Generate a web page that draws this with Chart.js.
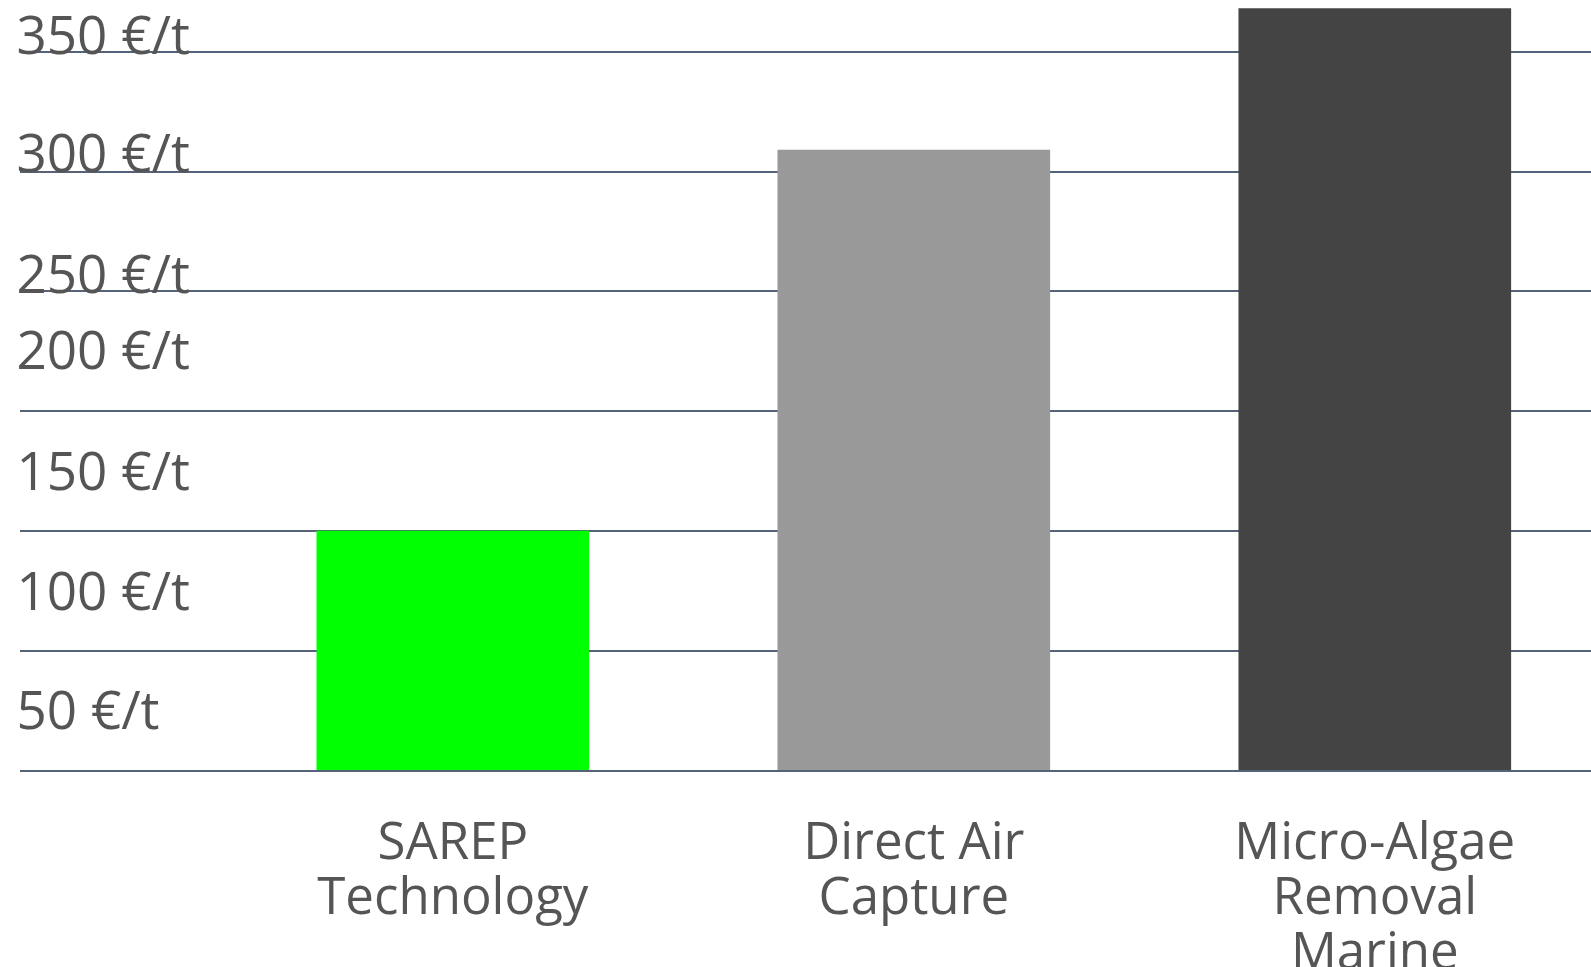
<!DOCTYPE html>
<html lang="en">
<head>
<meta charset="utf-8">
<title>Cost per tonne of CO2 removal</title>
<script src="https://cdn.jsdelivr.net/npm/chart.js@4/dist/chart.umd.min.js"></script>
<style>
    html, body { margin: 0; padding: 0; background: #fff; overflow: hidden; }
    #wrap { width: 1591px; height: 967px; position: relative; }
</style>
</head>
<body>
<div id="wrap"><canvas id="costChart"></canvas></div>
<script>
// Categories, one line per entry as they wrap under the bars
const categories = [
    ['SAREP', 'Technology'],
    ['Direct Air', 'Capture'],
    ['Micro-Algae', 'Removal', 'Marine']
];

// Bar heights, in grid units (gridlines every 50)
const costValues = [100, 259, 318];
const barColors = ['#00ff00', '#999999', '#444444'];

// Tick labels as printed on the left, and the value each one sits at
const tickLabels = ['50 €/t', '100 €/t', '150 €/t', '200 €/t', '250 €/t', '300 €/t', '350 €/t'];
const tickLabelValues = [23.5, 73.5, 123.5, 174, 205.5, 256, 305.5];

const TEXT_COLOR = '#555555';
const FONT = "'Open Sans', sans-serif";
const Y_MAX = 321.6;

/**
 * Builds the bar chart.
 */
function init() {
    const ctx = document.getElementById('costChart');

    new Chart(ctx, {
        type: 'bar',
        data: {
            datasets: [{
                data: costValues.map((v, i) => ({ x: i, y: v })),
                backgroundColor: barColors,
                borderWidth: 0,
                barThickness: 272
            }]
        },
        options: {
            responsive: true,
            maintainAspectRatio: false,
            animation: false,
            layout: { padding: { left: 19.5, top: 0, right: 0, bottom: 0 } },
            plugins: {
                legend: { display: false },
                tooltip: { enabled: false }
            },
            scales: {
                x: {
                    type: 'linear',
                    min: -0.94,
                    max: 2.469,
                    offset: false,
                    grid: { display: false, offset: false, drawTicks: false },
                    border: { display: false },
                    afterBuildTicks: scale => {
                        scale.ticks = categories.map((c, i) => ({ value: i }));
                    },
                    afterFit: scale => {
                        scale.height = 196.3;
                        scale.paddingLeft = 0;
                        scale.paddingRight = 0;
                    },
                    ticks: {
                        autoSkip: false,
                        maxRotation: 0,
                        minRotation: 0,
                        padding: 46,
                        color: TEXT_COLOR,
                        font: { family: FONT, size: 51, lineHeight: 1.08 },
                        callback: (value, index) => categories[index]
                    }
                },
                y: {
                    min: 0,
                    max: Y_MAX,
                    position: 'left',
                    grid: { color: '#56627a', lineWidth: 2, drawTicks: false },
                    border: { display: false },
                    ticks: { display: false, stepSize: 50, includeBounds: false }
                },
                yLabels: {
                    type: 'linear',
                    min: 0,
                    max: Y_MAX,
                    position: 'left',
                    grid: { display: false, drawTicks: false },
                    border: { display: false },
                    afterBuildTicks: scale => {
                        scale.ticks = tickLabelValues.map(v => ({ value: v }));
                    },
                    afterFit: scale => {
                        scale.width = 0;
                        scale.paddingTop = 0;
                        scale.paddingBottom = 0;
                    },
                    ticks: {
                        mirror: true,
                        padding: -3,
                        autoSkip: false,
                        color: TEXT_COLOR,
                        font: { family: FONT, size: 53 },
                        callback: (value, index) => tickLabels[index]
                    }
                }
            }
        }
    });
}

init();
</script>
</body>
</html>
